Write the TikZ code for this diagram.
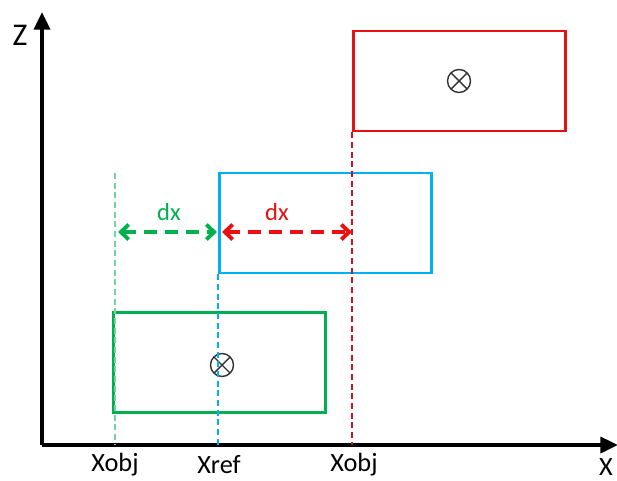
\documentclass[tikz,border=0pt]{standalone}
\usepackage{fontspec}
\setmainfont{Carlito}
\usetikzlibrary{arrows.meta}
\definecolor{objgreen}{RGB}{0,176,80}
\definecolor{refblue}{RGB}{0,176,240}
\definecolor{objred}{RGB}{232,16,16}
\definecolor{guidered}{RGB}{200,20,30}

\begin{document}
\begin{tikzpicture}[x=0.02cm,y=-0.02cm,
	axis/.style={line width=2.2pt,-{Triangle[length=10pt,width=9pt]}},
	box/.style={draw,line width=1.5pt,minimum width=4.24cm,minimum height=2cm,inner sep=0pt},
	guide/.style={line width=1pt,dash pattern=on 3.5pt off 2pt},
	gap/.style={line width=2.2pt,dash pattern=on 7.5pt off 4.5pt,{Straight Barb[length=4.5pt,width=8.5pt]}-{Straight Barb[length=4.5pt,width=8.5pt]}},
	otimes/.style={circle,draw=black!80,line width=0.8pt,minimum size=0.46cm,inner sep=0pt,
		path picture={\draw[black!80,line width=0.8pt] (path picture bounding box.north west) -- (path picture bounding box.south east)
			(path picture bounding box.north east) -- (path picture bounding box.south west);}},
	lab/.style={font=\fontsize{15}{17}\selectfont}]
	\useasboundingbox (0,0) rectangle (617,480);
	\def \axx{ 42 };
	\def \axy{ 445 };
	\def \ary{ 232 };
	% axes
	\coordinate (o) at (\axx,\axy);
	\coordinate (ztop) at (\axx,12);
	\coordinate (xend) at (618,\axy);
	\draw[axis] (o) -- (ztop);
	\draw[axis] (o) -- (xend);
	\node[font=\fontsize{18}{20}\selectfont] (zlab) at (20,35) {Z};
	\node[lab,inner sep=1pt] (xlab) at (606,467) {X};
	% boxes
	\node[box,draw=objgreen] (gbox) at (219.5,362.5) {};
	\node[box,draw=refblue] (bbox) at (325.5,223) {};
	\node[box,draw=objred] (rbox) at (459.5,81) {};
	\node[otimes] (gmark) at (222,365) {};
	\node[otimes] (rmark) at (459,81) {};
	% guides
	\coordinate (gtop) at (115,173);
	\coordinate (gbot) at (gtop |- o);
	\coordinate (bbot) at (bbox.south west |- o);
	\coordinate (rbot) at (rbox.south west |- o);
	\draw[guide,draw=objgreen!55] (gtop) -- (gbot);
	\draw[guide,draw=refblue] (bbox.south west) -- (bbot);
	\draw[guide,draw=guidered] (rbox.south west) -- (rbot);
	% offsets
	\coordinate (g1) at (118,\ary);
	\coordinate (g2) at (217,\ary);
	\coordinate (r1) at (222,\ary);
	\coordinate (r2) at (352,\ary);
	\draw[gap,draw=objgreen] (g1) -- (g2);
	\draw[gap,draw=objred] (r1) -- (r2);
	\node[lab,text=objgreen,font=\fontsize{14}{16}\selectfont] (gdx) at (169,212) {dx};
	\node[lab,text=objred,font=\fontsize{14}{16}\selectfont] (rdx) at (277,212) {dx};
	% axis labels
	\node[lab] (gx) at (115,465) {Xobj};
	\node[lab] (bx) at (219,465) {Xref};
	\node[lab] (rx) at (354,465) {Xobj};
\end{tikzpicture}
\end{document}
